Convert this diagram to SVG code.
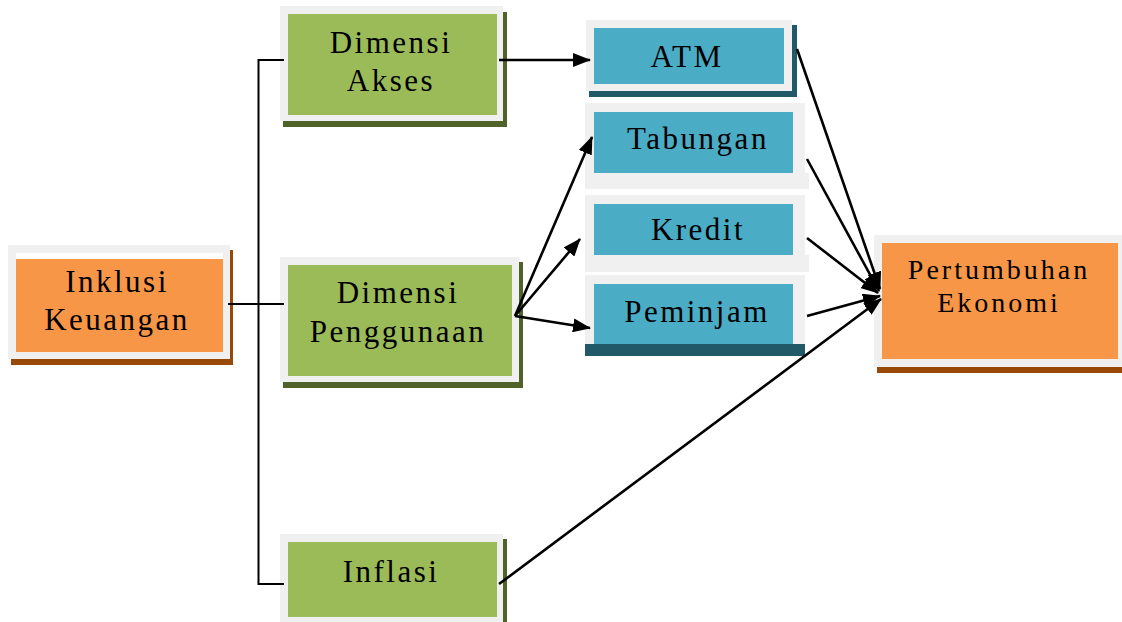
<svg xmlns="http://www.w3.org/2000/svg" width="1122" height="622" viewBox="0 0 1122 622">
<style>
.frame{fill:#f0f0f0}
.org{fill:#f79646}
.grn{fill:#9bbb59}
.blu{fill:#4bacc6}
.shO{fill:#984807}
.shG{fill:#4f6228}
.shB{fill:#215968}
.t{font-family:"Liberation Serif","Times New Roman",serif;font-size:31px;letter-spacing:2.5px;fill:#000;text-anchor:middle}
.t2{font-family:"Liberation Serif","Times New Roman",serif;font-size:28px;letter-spacing:3px;fill:#000;text-anchor:middle}
.ln{fill:none;stroke:#000;stroke-width:2}
.ar{fill:none;stroke:#000;stroke-width:2.6;marker-end:url(#ah)}
</style>
<defs>
<marker id="ah" markerUnits="userSpaceOnUse" markerWidth="18" markerHeight="14" refX="17" refY="7" orient="auto">
<path d="M0,0 L18,7 L0,14 z" fill="#000"/>
</marker>
</defs>
<rect width="1122" height="622" fill="#fff"/>

<g id="inklusi">
<rect class="shO" x="11" y="250" width="222" height="115"/>
<rect class="frame" x="8" y="245" width="222" height="114"/>
<rect fill="#fff" x="16" y="253" width="207" height="99"/>
<rect class="org" x="16" y="259" width="207" height="93"/>
<text class="t" x="117" y="292">Inklusi</text>
<text class="t" x="117" y="330">Keuangan</text>
</g>

<g id="akses">
<rect class="shG" x="283" y="12" width="224" height="115"/>
<rect class="frame" x="280" y="6" width="223" height="115"/>
<rect class="grn" x="288" y="14" width="209" height="101"/>
<text class="t" x="391" y="53">Dimensi</text>
<text class="t" x="391" y="91">Akses</text>
</g>

<g id="penggunaan">
<rect class="shG" x="283" y="262" width="240" height="126"/>
<rect class="frame" x="280" y="257" width="239" height="125"/>
<rect class="grn" x="288" y="265" width="224" height="111"/>
<text class="t" x="398" y="303">Dimensi</text>
<text class="t" x="398" y="342">Penggunaan</text>
</g>

<g id="inflasi">
<rect class="shG" x="283" y="539" width="224" height="90"/>
<rect class="frame" x="280" y="534" width="223" height="90"/>
<rect class="grn" x="288" y="542" width="209" height="75"/>
<text class="t" x="391" y="582">Inflasi</text>
</g>

<g id="atm">
<rect class="shB" x="589" y="25" width="208" height="72"/>
<rect class="frame" x="586" y="20" width="206" height="71"/>
<rect class="blu" x="594" y="28" width="190" height="56"/>
<text class="t" x="687" y="67">ATM</text>
</g>

<g id="tabungan">
<rect class="frame" x="585" y="103" width="220" height="86"/>
<rect class="frame" x="585" y="173" width="224" height="16"/>
<rect class="blu" x="594" y="112" width="199" height="61"/>
<text class="t" x="698" y="149">Tabungan</text>
</g>

<g id="kredit">
<rect class="frame" x="585" y="195" width="220" height="77"/>
<rect class="frame" x="585" y="255" width="224" height="17"/>
<rect class="blu" x="594" y="204" width="199" height="51"/>
<text class="t" x="698" y="240">Kredit</text>
</g>

<g id="peminjam">
<rect class="frame" x="585" y="275" width="220" height="69"/>
<rect class="blu" x="594" y="284" width="199" height="60"/>
<rect class="shB" x="585" y="344" width="220" height="12"/>
<text class="t" x="697" y="322">Peminjam</text>
</g>

<g id="pertumbuhan">
<rect class="shO" x="877" y="248" width="245" height="125"/>
<rect class="frame" x="874" y="235" width="248" height="132"/>
<rect class="org" x="882" y="243" width="236" height="116"/>
<text class="t2" x="999" y="279">Pertumbuhan</text>
<text class="t2" x="999" y="312">Ekonomi</text>
</g>

<g id="connectors">
<path class="ln" d="M284,60 H258.5 V584 H284"/>
<path class="ln" d="M228,304 H284"/>
<path class="ar" d="M499,60 L590,60"/>
<path class="ar" d="M515,316 L592,137"/>
<path class="ar" d="M515,316 L580,239"/>
<path class="ar" d="M515,316 L590,328"/>
<path class="ar" d="M797,49 L880,289"/>
<path class="ar" d="M807,159 L879,291"/>
<path class="ar" d="M807,238 L878,293"/>
<path class="ar" d="M807,316 L880,296"/>
<path class="ar" d="M499,584 L881,299"/>
</g>
</svg>
